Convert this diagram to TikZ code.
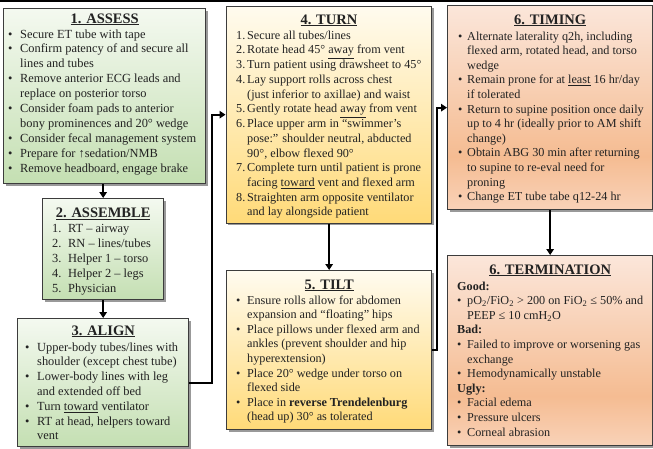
\documentclass[tikz,border=0pt]{standalone}
\usepackage{fontspec}
\setmainfont{Liberation Serif}
\usetikzlibrary{shadows,arrows.meta}
\definecolor{bord}{HTML}{3C3C3C}
\definecolor{txtc}{HTML}{222222}
\definecolor{gtop}{HTML}{F4F9F0}
\definecolor{gbot}{HTML}{C4DFB2}
\definecolor{ytop}{HTML}{FFFBEF}
\definecolor{ybot}{HTML}{FFDA78}
\definecolor{otop}{HTML}{FBE6DA}
\definecolor{omid}{HTML}{F5BC92}
\definecolor{obot}{HTML}{F9D2B8}
\pgfdeclareverticalshading{gsh}{100bp}{color(0bp)=(gbot); color(25bp)=(gbot); color(75bp)=(gtop); color(100bp)=(gtop)}
\pgfdeclareverticalshading{ysh}{100bp}{color(0bp)=(ybot); color(25bp)=(ybot); color(75bp)=(ytop); color(100bp)=(ytop)}
\pgfdeclareverticalshading{osh}{100bp}{color(0bp)=(obot); color(25bp)=(obot); color(38bp)=(omid); color(75bp)=(otop); color(100bp)=(otop)}
\newlength\bw
\newcommand\bi[1]{\makebox[\bw][l]{\textbullet}#1}
\newcommand\nm[2]{\makebox[\bw][l]{#1}#2}
\newcommand\ct[1]{\hspace*{\bw}#1}
\tikzset{
  box/.style={draw=bord, line width=1.3pt, inner sep=0pt, anchor=north west,
    drop shadow={shadow xshift=2pt, shadow yshift=-2pt, fill=black, opacity=0.4}},
  gbox/.style={box, shading=gsh},
  ybox/.style={box, shading=ysh},
  obox/.style={box, shading=osh},
  ttl/.style={anchor=base, inner sep=0pt, text=txtc, font=\fontsize{14.5}{16}\selectfont\bfseries},
  txt/.style={anchor=base west, inner sep=0pt, text=txtc, font=\fontsize{12.2}{14.6}\selectfont},
  arr/.style={line width=2.3pt, black, -{Triangle[width=7.5pt,length=6pt]}},
  con/.style={line width=2.3pt, black}
}
\begin{document}
\begin{tikzpicture}[x=1pt,y=-1pt]
\fill[white] (0,0) rectangle (653,448);
\useasboundingbox (0,0) rectangle (653,448);
\draw[black, line width=1.5pt] (0,0.75) -- (653,0.75);
% boxes
\node[gbox, minimum width=202pt, minimum height=175pt] (b1) at (3,8) {};
\node[gbox, minimum width=121pt, minimum height=101pt] (b2) at (42,198) {};
\node[gbox, minimum width=171pt, minimum height=128pt] (b3) at (17,318) {};
\node[ybox, minimum width=205.5pt, minimum height=217pt] (b4) at (225.5,5.5) {};
\node[ybox, minimum width=205pt, minimum height=159pt] (b5) at (226,270) {};
\node[obox, minimum width=205pt, minimum height=204pt] (b6) at (447,5) {};
\node[obox, minimum width=205pt, minimum height=190pt] (b7) at (447,255) {};
% titles
\node[ttl] (t1) at (b1.north |- 0,23) {\underline{1. ASSESS}};
\node[ttl] (t2) at (b2.north |- 0,217.5) {\underline{2. ASSEMBLE}};
\node[ttl] (t3) at (b3.north |- 0,335) {\underline{3. ALIGN}};
\node[ttl] (t4) at (b4.north |- 0,24) {\underline{4. TURN}};
\node[ttl] (t5) at (b5.north |- 0,289) {\underline{5. TILT}};
\node[ttl] (t6) at (b6.north |- 0,24) {\underline{6. TIMING}};
\node[ttl] (t7) at (b7.north |- 0,274) {\underline{6. TERMINATION}};
% contents
\node[txt, font=\fontsize{12.4}{14.9}\selectfont] (c1) at (8,38) {\setlength\bw{12pt}\begin{tabular}[t]{@{}l@{}}
\bi{Secure ET tube with tape}\\
\bi{Confirm patency of and secure all}\\
\ct{lines and tubes}\\
\bi{Remove anterior ECG leads and}\\
\ct{replace on posterior torso}\\
\bi{Consider foam pads to anterior}\\
\ct{bony prominences and 20° wedge}\\
\bi{Consider fecal management system}\\
\bi{Prepare for ↑sedation/NMB}\\
\bi{Remove headboard, engage brake}
\end{tabular}};
\node[txt, font=\fontsize{12.4}{15}\selectfont] (c2) at (52,232) {\setlength\bw{16pt}\begin{tabular}[t]{@{}l@{}}
\nm{1.}{RT – airway}\\
\nm{2.}{RN – lines/tubes}\\
\nm{3.}{Helper 1 – torso}\\
\nm{4.}{Helper 2 – legs}\\
\nm{5.}{Physician}
\end{tabular}};
\node[txt, font=\fontsize{12.4}{14.8}\selectfont] (c3) at (25,351) {\setlength\bw{12pt}\begin{tabular}[t]{@{}l@{}}
\bi{Upper-body tubes/lines with}\\
\ct{shoulder (except chest tube)}\\
\bi{Lower-body lines with leg}\\
\ct{and extended off bed}\\
\bi{Turn \underline{toward} ventilator}\\
\bi{RT at head, helpers toward}\\
\ct{vent}
\end{tabular}};
\node[txt, font=\fontsize{12.2}{14.7}\selectfont] (c4) at (236,39) {\setlength\bw{11pt}\begin{tabular}[t]{@{}l@{}}
\nm{1.}{Secure all tubes/lines}\\
\nm{2.}{Rotate head 45° \underline{away} from vent}\\
\nm{3.}{Turn patient using drawsheet to 45°}\\
\nm{4.}{Lay support rolls across chest}\\
\ct{(just inferior to axillae) and waist}\\
\nm{5.}{Gently rotate head \underline{away} from vent}\\
\nm{6.}{Place upper arm in “swimmer’s}\\
\ct{pose:” shoulder neutral, abducted}\\
\ct{90°, elbow flexed 90°}\\
\nm{7.}{Complete turn until patient is prone}\\
\ct{facing \underline{toward} vent and flexed arm}\\
\nm{8.}{Straighten arm opposite ventilator}\\
\ct{and lay alongside patient}
\end{tabular}};
\node[txt, font=\fontsize{12.2}{14.6}\selectfont] (c5) at (236,304) {\setlength\bw{11pt}\begin{tabular}[t]{@{}l@{}}
\bi{Ensure rolls allow for abdomen}\\
\ct{expansion and “floating” hips}\\
\bi{Place pillows under flexed arm and}\\
\ct{ankles (prevent shoulder and hip}\\
\ct{hyperextension)}\\
\bi{Place 20° wedge under torso on}\\
\ct{flexed side}\\
\bi{Place in \textbf{reverse Trendelenburg}}\\
\ct{(head up) 30° as tolerated}
\end{tabular}};
\node[txt] (c6) at (458,40) {\setlength\bw{9pt}\begin{tabular}[t]{@{}l@{}}
\bi{Alternate laterality q2h, including}\\
\ct{flexed arm, rotated head, and torso}\\
\ct{wedge}\\
\bi{Remain prone for at \underline{least} 16 hr/day}\\
\ct{if tolerated}\\
\bi{Return to supine position once daily}\\
\ct{up to 4 hr (ideally prior to AM shift}\\
\ct{change)}\\
\bi{Obtain ABG 30 min after returning}\\
\ct{to supine to re-eval need for}\\
\ct{proning}\\
\bi{Change ET tube tabe q12-24 hr}
\end{tabular}};
\node[txt] (c7) at (457,290) {\setlength\bw{10pt}\begin{tabular}[t]{@{}l@{}}
\textbf{Good:}\\
\bi{pO\textsubscript{2}/FiO\textsubscript{2} > 200 on FiO\textsubscript{2} ≤ 50\% and}\\
\ct{PEEP ≤ 10 cmH\textsubscript{2}O}\\
\textbf{Bad:}\\
\bi{Failed to improve or worsening gas}\\
\ct{exchange}\\
\bi{Hemodynamically unstable}\\
\textbf{Ugly:}\\
\bi{Facial edema}\\
\bi{Pressure ulcers}\\
\bi{Corneal abrasion}
\end{tabular}};
% connectors
\coordinate (j1) at (212,0);
\coordinate (j2) at (437,0);
\draw[arr] (b2.north |- b1.south) -- (b2.north);
\draw[arr] (b2.south) -- (b3.north);
\draw[arr] (b5.north |- b4.south) -- (b5.north);
\draw[arr] (b6.south) -- (b7.north);
\draw[arr] (b3.east) -| (j1 |- b4.west) -- (b4.west);
\draw[arr] (b5.east) -| (j2 |- b6.west) -- (b6.west);
\end{tikzpicture}
\end{document}
